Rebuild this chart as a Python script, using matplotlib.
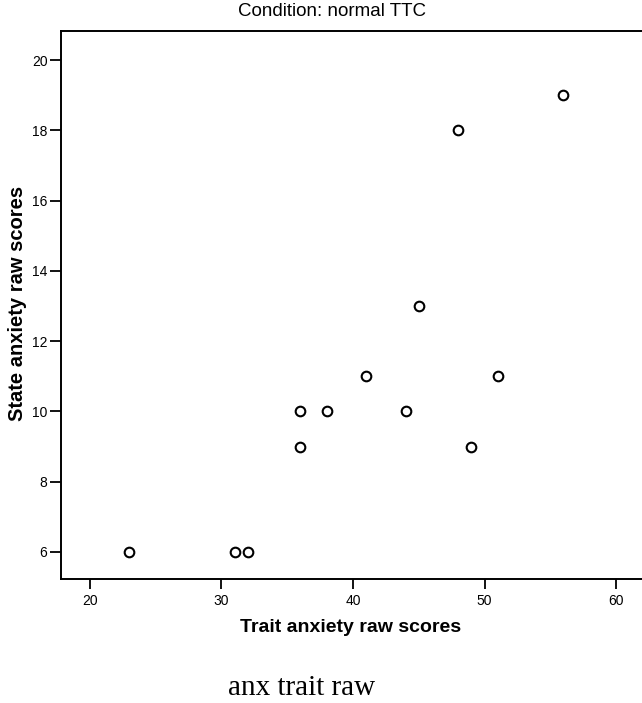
import matplotlib
matplotlib.use("Agg")
import matplotlib.pyplot as plt

# trait vs state anxiety raw scores, condition: normal TTC
trait = [23, 31, 32, 36, 36, 38, 41, 44, 45, 48, 49, 51, 56]
state = [6, 6, 6, 10, 9, 10, 11, 10, 13, 18, 9, 11, 19]
x_ticks = [20, 30, 40, 50, 60]
y_ticks = [6, 8, 10, 12, 14, 16, 18, 20]

plt.rcParams["font.family"] = ["Liberation Sans", "DejaVu Sans"]

W, H = 642, 703
fig = plt.figure(figsize=(W / 100, H / 100), dpi=100)
ax = fig.add_axes([61 / W, 1 - 579 / H, 581 / W, 548 / H])

ax.scatter(trait, state, s=48, facecolors="white", edgecolors="black",
           linewidths=1.5, zorder=3)

ax.set_xlim(17.8, 61.97)
ax.set_ylim(5.23, 20.83)
ax.set_xticks(x_ticks)
ax.set_yticks(y_ticks)
ax.tick_params(axis="x", direction="out", length=7.5, width=1.3,
               labelsize=10, pad=3)
ax.tick_params(axis="y", direction="out", length=8, width=1.3,
               labelsize=10, pad=1.8)

ax.spines["right"].set_visible(False)
for side in ("left", "bottom", "top"):
    ax.spines[side].set_linewidth(1.4)

# titles / axis labels placed in figure pixels
fig.text(331.5 / W, 1 - 16 / H, "Condition: normal TTC", ha="center",
         va="baseline", fontsize=13.5)
fig.text(351 / W, 1 - 632 / H, "Trait anxiety raw scores", ha="center",
         va="baseline", fontsize=14, fontweight="bold")
fig.text(17.5 / W, 1 - 303 / H, "State anxiety raw scores", ha="center",
         va="center", rotation=90, fontsize=14.5, fontweight="bold")
fig.text(302 / W, 1 - 695 / H, "anx trait raw", ha="center", va="baseline",
         fontsize=21, family=["Liberation Serif", "DejaVu Serif"])

fig.savefig("out.png", dpi=100)
